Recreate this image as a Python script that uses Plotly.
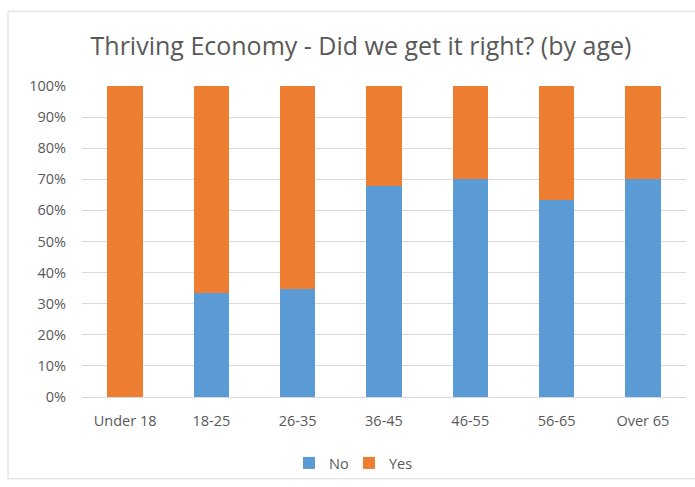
import plotly.graph_objects as go

categories = ["Under 18", "18-25", "26-35", "36-45", "46-55", "56-65", "Over 65"]
no_vals = [0, 33.3, 34.8, 68.0, 70.0, 63.5, 70.0]
yes_vals = [100 - v for v in no_vals]
tick_vals = [0, 10, 20, 30, 40, 50, 60, 70, 80, 90, 100]
tick_text = [f"{v}%" for v in tick_vals]

W, H = 695, 487
L, R, T, B = 82, 9, 86, 89
pw, ph = W - L - R, H - T - B

fig = go.Figure()
fig.add_trace(go.Bar(x=categories, y=no_vals, name="No", marker_color="#5B9BD5",
                     marker_line_width=0, legend="legend"))
fig.add_trace(go.Bar(x=categories, y=yes_vals, name="Yes", marker_color="#ED7D31",
                     marker_line_width=0, legend="legend2"))

font_family = "Open Sans, Noto Sans, sans-serif"
leg_common = dict(orientation="h", yanchor="middle", xanchor="left", y=(398 - 463) / ph,
                  font=dict(size=14.5, color="#595959"), itemwidth=30,
                  bgcolor="rgba(0,0,0,0)")
fig.update_layout(
    barmode="stack",
    bargap=0.59,
    width=W, height=H,
    margin=dict(l=L, r=R, t=T, b=B),
    paper_bgcolor="white",
    plot_bgcolor="white",
    font=dict(family=font_family, color="#595959", size=14),
    title=dict(text="Thriving Economy - Did we get it right? (by age)",
               xref="container", x=361 / W, xanchor="center", y=1 - 46 / H, yanchor="middle",
               font=dict(size=25, color="#595959", family=font_family)),
    xaxis=dict(showgrid=False, showline=True, linecolor="#D9D9D9", ticks="",
               tickfont=dict(size=14.5, color="#595959"), ticklabelstandoff=11),
    yaxis=dict(range=[0, 100], tickvals=tick_vals, ticktext=tick_text,
               showgrid=True, gridcolor="#D9D9D9", gridwidth=1, zeroline=False,
               ticks="", tickfont=dict(size=14.5, color="#595959"), ticklabelstandoff=15),
    legend=dict(x=(289 - L) / pw, **leg_common),
    legend2=dict(x=(349 - L) / pw, **leg_common),
    showlegend=True,
)
fig.add_shape(type="rect", xref="paper", yref="paper",
              x0=(8 - L) / pw, x1=(W + 5 - L) / pw,
              y0=(398 - 480) / ph, y1=(398 - 11) / ph,
              line=dict(color="#D9D9D9", width=1), fillcolor="rgba(0,0,0,0)", layer="below")
fig.write_html("out.html")
